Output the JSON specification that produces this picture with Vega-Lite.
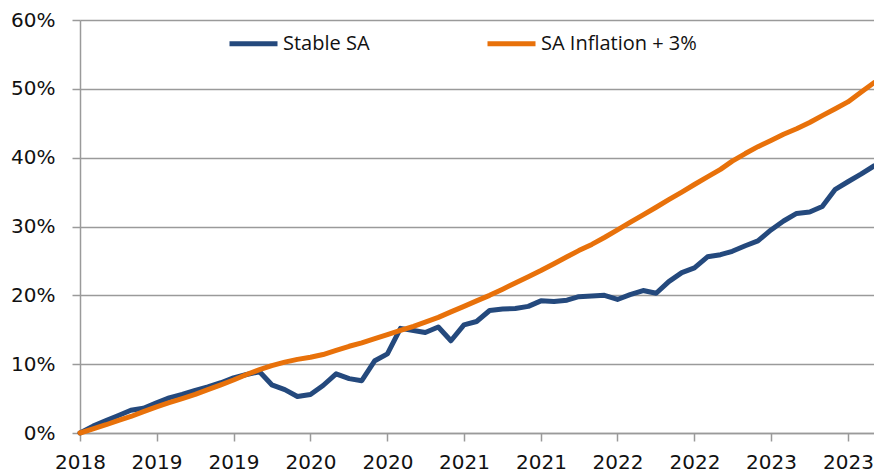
{
  "$schema": "https://vega.github.io/schema/vega-lite/v6.json",
  "width": 794,
  "height": 413,
  "autosize": "none",
  "padding": {"left": 80, "top": 20, "right": 0, "bottom": 39},
  "background": "white",
  "config": {
    "view": {"stroke": null},
    "font": "Open Sans"
  },
  "data": {
    "values": [
      {"date": "2018-12-01", "Stable SA": 0.0, "SA Inflation + 3%": 0.0},
      {"date": "2019-01-01", "Stable SA": 1.0, "SA Inflation + 3%": 0.6},
      {"date": "2019-02-01", "Stable SA": 1.8, "SA Inflation + 3%": 1.2},
      {"date": "2019-03-01", "Stable SA": 2.5, "SA Inflation + 3%": 1.8},
      {"date": "2019-04-01", "Stable SA": 3.3, "SA Inflation + 3%": 2.4},
      {"date": "2019-05-01", "Stable SA": 3.6, "SA Inflation + 3%": 3.1},
      {"date": "2019-06-01", "Stable SA": 4.4, "SA Inflation + 3%": 3.8},
      {"date": "2019-07-01", "Stable SA": 5.1, "SA Inflation + 3%": 4.4},
      {"date": "2019-08-01", "Stable SA": 5.6, "SA Inflation + 3%": 5.0},
      {"date": "2019-09-01", "Stable SA": 6.2, "SA Inflation + 3%": 5.6},
      {"date": "2019-10-01", "Stable SA": 6.7, "SA Inflation + 3%": 6.3},
      {"date": "2019-11-01", "Stable SA": 7.3, "SA Inflation + 3%": 7.0},
      {"date": "2019-12-01", "Stable SA": 8.0, "SA Inflation + 3%": 7.7},
      {"date": "2020-01-01", "Stable SA": 8.5, "SA Inflation + 3%": 8.5},
      {"date": "2020-02-01", "Stable SA": 8.9, "SA Inflation + 3%": 9.2},
      {"date": "2020-03-01", "Stable SA": 7.0, "SA Inflation + 3%": 9.8},
      {"date": "2020-04-01", "Stable SA": 6.3, "SA Inflation + 3%": 10.3},
      {"date": "2020-05-01", "Stable SA": 5.3, "SA Inflation + 3%": 10.7},
      {"date": "2020-06-01", "Stable SA": 5.6, "SA Inflation + 3%": 11.0},
      {"date": "2020-07-01", "Stable SA": 6.9, "SA Inflation + 3%": 11.4},
      {"date": "2020-08-01", "Stable SA": 8.6, "SA Inflation + 3%": 12.0},
      {"date": "2020-09-01", "Stable SA": 7.9, "SA Inflation + 3%": 12.6},
      {"date": "2020-10-01", "Stable SA": 7.6, "SA Inflation + 3%": 13.1},
      {"date": "2020-11-01", "Stable SA": 10.5, "SA Inflation + 3%": 13.7},
      {"date": "2020-12-01", "Stable SA": 11.5, "SA Inflation + 3%": 14.3},
      {"date": "2021-01-01", "Stable SA": 15.2, "SA Inflation + 3%": 14.9},
      {"date": "2021-02-01", "Stable SA": 14.9, "SA Inflation + 3%": 15.5},
      {"date": "2021-03-01", "Stable SA": 14.6, "SA Inflation + 3%": 16.1},
      {"date": "2021-04-01", "Stable SA": 15.4, "SA Inflation + 3%": 16.8},
      {"date": "2021-05-01", "Stable SA": 13.4, "SA Inflation + 3%": 17.6},
      {"date": "2021-06-01", "Stable SA": 15.7, "SA Inflation + 3%": 18.4},
      {"date": "2021-07-01", "Stable SA": 16.2, "SA Inflation + 3%": 19.2},
      {"date": "2021-08-01", "Stable SA": 17.8, "SA Inflation + 3%": 20.0},
      {"date": "2021-09-01", "Stable SA": 18.0, "SA Inflation + 3%": 20.9},
      {"date": "2021-10-01", "Stable SA": 18.1, "SA Inflation + 3%": 21.8},
      {"date": "2021-11-01", "Stable SA": 18.4, "SA Inflation + 3%": 22.7},
      {"date": "2021-12-01", "Stable SA": 19.2, "SA Inflation + 3%": 23.6},
      {"date": "2022-01-01", "Stable SA": 19.1, "SA Inflation + 3%": 24.6},
      {"date": "2022-02-01", "Stable SA": 19.3, "SA Inflation + 3%": 25.6},
      {"date": "2022-03-01", "Stable SA": 19.8, "SA Inflation + 3%": 26.5},
      {"date": "2022-04-01", "Stable SA": 19.9, "SA Inflation + 3%": 27.4},
      {"date": "2022-05-01", "Stable SA": 20.0, "SA Inflation + 3%": 28.4},
      {"date": "2022-06-01", "Stable SA": 19.4, "SA Inflation + 3%": 29.5},
      {"date": "2022-07-01", "Stable SA": 20.1, "SA Inflation + 3%": 30.6},
      {"date": "2022-08-01", "Stable SA": 20.7, "SA Inflation + 3%": 31.7},
      {"date": "2022-09-01", "Stable SA": 20.3, "SA Inflation + 3%": 32.8},
      {"date": "2022-10-01", "Stable SA": 22.0, "SA Inflation + 3%": 33.9},
      {"date": "2022-11-01", "Stable SA": 23.3, "SA Inflation + 3%": 35.0},
      {"date": "2022-12-01", "Stable SA": 24.0, "SA Inflation + 3%": 36.1},
      {"date": "2023-01-01", "Stable SA": 25.6, "SA Inflation + 3%": 37.2},
      {"date": "2023-02-01", "Stable SA": 25.9, "SA Inflation + 3%": 38.3},
      {"date": "2023-03-01", "Stable SA": 26.4, "SA Inflation + 3%": 39.5},
      {"date": "2023-04-01", "Stable SA": 27.2, "SA Inflation + 3%": 40.6},
      {"date": "2023-05-01", "Stable SA": 27.9, "SA Inflation + 3%": 41.6},
      {"date": "2023-06-01", "Stable SA": 29.5, "SA Inflation + 3%": 42.5},
      {"date": "2023-07-01", "Stable SA": 30.8, "SA Inflation + 3%": 43.4},
      {"date": "2023-08-01", "Stable SA": 31.9, "SA Inflation + 3%": 44.2},
      {"date": "2023-09-01", "Stable SA": 32.1, "SA Inflation + 3%": 45.1},
      {"date": "2023-10-01", "Stable SA": 32.9, "SA Inflation + 3%": 46.1},
      {"date": "2023-11-01", "Stable SA": 35.4, "SA Inflation + 3%": 47.1},
      {"date": "2023-12-01", "Stable SA": 36.5, "SA Inflation + 3%": 48.1},
      {"date": "2024-01-01", "Stable SA": 37.6, "SA Inflation + 3%": 49.5},
      {"date": "2024-02-01", "Stable SA": 38.8, "SA Inflation + 3%": 50.9}
    ]
  },
  "transform": [
    {"fold": ["Stable SA", "SA Inflation + 3%"], "as": ["series", "value"]}
  ],
  "mark": {"type": "line", "strokeWidth": 5, "strokeJoin": "round", "strokeCap": "round", "clip": false},
  "encoding": {
    "x": {
      "field": "date",
      "type": "temporal",
      "scale": {
        "type": "utc",
        "domain": [
          {"year": 2018, "month": 12, "date": 1, "utc": true},
          {"year": 2024, "month": 2, "date": 1, "utc": true}
        ]
      },
      "axis": {
        "title": null,
        "labelExpr": "utcFormat(datum.value, '%Y')",
        "values": [
          {"year": 2018, "month": 12, "date": 1, "utc": true},
          {"year": 2019, "month": 6, "date": 1, "utc": true},
          {"year": 2019, "month": 12, "date": 1, "utc": true},
          {"year": 2020, "month": 6, "date": 1, "utc": true},
          {"year": 2020, "month": 12, "date": 1, "utc": true},
          {"year": 2021, "month": 6, "date": 1, "utc": true},
          {"year": 2021, "month": 12, "date": 1, "utc": true},
          {"year": 2022, "month": 6, "date": 1, "utc": true},
          {"year": 2022, "month": 12, "date": 1, "utc": true},
          {"year": 2023, "month": 6, "date": 1, "utc": true},
          {"year": 2023, "month": 12, "date": 1, "utc": true}
        ],
        "grid": false,
        "domainColor": "#9a9a9a",
        "domainWidth": 1.5,
        "tickColor": "#9a9a9a",
        "tickWidth": 1.5,
        "tickSize": 8,
        "labelFont": "DejaVu Sans",
        "labelFontSize": 20,
        "labelColor": "#111111",
        "labelPadding": 11,
        "labelFlush": false,
        "labelOverlap": false
      }
    },
    "y": {
      "field": "value",
      "type": "quantitative",
      "scale": {"domain": [0, 60], "nice": false, "zero": true},
      "axis": {
        "title": null,
        "values": [0, 10, 20, 30, 40, 50, 60],
        "labelExpr": "datum.value + '%'",
        "grid": true,
        "gridColor": "#9a9a9a",
        "gridWidth": 1.5,
        "domainColor": "#9a9a9a",
        "domainWidth": 1.5,
        "tickColor": "#9a9a9a",
        "tickWidth": 1.5,
        "tickSize": 8,
        "labelFont": "DejaVu Sans",
        "labelFontSize": 20,
        "labelColor": "#111111",
        "labelPadding": 17
      }
    },
    "color": {
      "field": "series",
      "type": "nominal",
      "scale": {
        "domain": ["Stable SA", "SA Inflation + 3%"],
        "range": ["#24497D", "#E8710A"]
      },
      "legend": {
        "title": null,
        "orient": "none",
        "legendX": 147,
        "legendY": -3,
        "direction": "horizontal",
        "symbolType": "stroke",
        "symbolStrokeWidth": 5,
        "symbolSize": 2304,
        "labelFont": "Open Sans",
        "labelFontSize": 20,
        "labelColor": "#111111",
        "labelOffset": 3,
        "columnPadding": 107,
        "labelLimit": 400
      }
    }
  }
}
